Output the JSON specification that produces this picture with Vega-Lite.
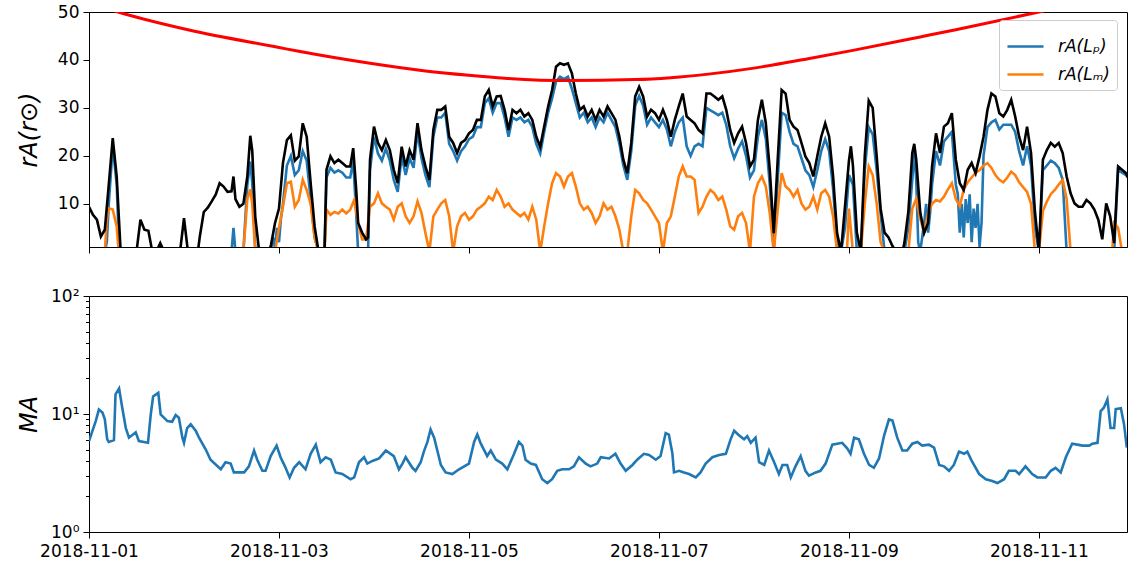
{
"$schema": "https://vega.github.io/schema/vega-lite/v6.json",
"padding": {"left": 16, "top": 2, "right": 0, "bottom": 0},
"config": {
 "font": "DejaVu Sans",
 "view": {"stroke": "black", "strokeWidth": 1},
 "axis": {"domainColor": "black", "tickColor": "black", "labelColor": "black", "titleColor": "black", "grid": false, "labelFont": "DejaVu Sans", "labelFontSize": 17, "tickSize": 6, "domainWidth": 1, "tickWidth": 1, "titleFont": "DejaVu Sans", "titleFontWeight": "normal"}
},
"datasets": {
"tot": [
{"t":"2018-11-01T00:00","v":9.4},{"t":"2018-11-01T01:00","v":7.7},{"t":"2018-11-01T02:00","v":6.7},{"t":"2018-11-01T03:00","v":3.2},{"t":"2018-11-01T04:00","v":4.6},{"t":"2018-11-01T05:00","v":14},{"t":"2018-11-01T06:00","v":23.7},{"t":"2018-11-01T07:00","v":15.7},{"t":"2018-11-01T08:00","v":0},{"t":"2018-11-01T12:00","v":0},{"t":"2018-11-01T13:00","v":6.7},{"t":"2018-11-01T14:00","v":4.6},{"t":"2018-11-01T15:00","v":4.4},{"t":"2018-11-01T16:00","v":0},{"t":"2018-11-01T17:00","v":0},{"t":"2018-11-01T18:00","v":1.8},{"t":"2018-11-01T19:00","v":0},{"t":"2018-11-01T23:00","v":0},
{"t":"2018-11-02T00:00","v":7},{"t":"2018-11-02T01:00","v":0},{"t":"2018-11-02T03:30","v":0},{"t":"2018-11-02T04:00","v":3.2},{"t":"2018-11-02T05:00","v":8.3},{"t":"2018-11-02T06:00","v":9.2},{"t":"2018-11-02T07:00","v":10.5},{"t":"2018-11-02T08:00","v":11.9},{"t":"2018-11-02T09:00","v":14.3},{"t":"2018-11-02T10:00","v":13.6},{"t":"2018-11-02T11:00","v":12.5},{"t":"2018-11-02T12:00","v":12.6},{"t":"2018-11-02T12:30","v":15.7},{"t":"2018-11-02T13:00","v":11},{"t":"2018-11-02T14:00","v":9.4},{"t":"2018-11-02T15:00","v":10},{"t":"2018-11-02T16:00","v":15.7},{"t":"2018-11-02T16:45","v":24.2},{"t":"2018-11-02T17:15","v":21},{"t":"2018-11-02T18:00","v":7.4},{"t":"2018-11-02T19:00","v":0},{"t":"2018-11-02T21:30","v":0},{"t":"2018-11-02T22:00","v":1.5},{"t":"2018-11-02T23:00","v":6},
{"t":"2018-11-03T00:00","v":9},{"t":"2018-11-03T01:00","v":18.5},{"t":"2018-11-03T02:00","v":23.3},{"t":"2018-11-03T03:00","v":24.3},{"t":"2018-11-03T04:00","v":19},{"t":"2018-11-03T05:00","v":19.9},{"t":"2018-11-03T06:00","v":26.8},{"t":"2018-11-03T07:00","v":24},{"t":"2018-11-03T08:00","v":14.3},{"t":"2018-11-03T09:00","v":5.3},{"t":"2018-11-03T10:00","v":0},{"t":"2018-11-03T11:30","v":0},{"t":"2018-11-03T12:00","v":17.1},{"t":"2018-11-03T13:00","v":19.9},{"t":"2018-11-03T14:00","v":18.5},{"t":"2018-11-03T15:00","v":19.2},{"t":"2018-11-03T16:00","v":18.5},{"t":"2018-11-03T17:00","v":17.8},{"t":"2018-11-03T18:00","v":17.8},{"t":"2018-11-03T18:45","v":21.6},{"t":"2018-11-03T19:30","v":13},{"t":"2018-11-03T20:00","v":6},{"t":"2018-11-03T21:00","v":4},{"t":"2018-11-03T22:00","v":2.6},{"t":"2018-11-03T22:30","v":3},{"t":"2018-11-03T23:00","v":19.2},
{"t":"2018-11-04T00:00","v":26.1},{"t":"2018-11-04T01:00","v":22.7},{"t":"2018-11-04T02:00","v":21.2},{"t":"2018-11-04T03:00","v":23.3},{"t":"2018-11-04T04:00","v":21.2},{"t":"2018-11-04T05:00","v":17.1},{"t":"2018-11-04T06:00","v":14.3},{"t":"2018-11-04T07:00","v":21.9},{"t":"2018-11-04T08:00","v":17.8},{"t":"2018-11-04T09:00","v":21.2},{"t":"2018-11-04T10:00","v":19.2},{"t":"2018-11-04T11:00","v":26.8},{"t":"2018-11-04T12:00","v":21.2},{"t":"2018-11-04T13:00","v":17.8},{"t":"2018-11-04T14:00","v":15},{"t":"2018-11-04T15:00","v":25.4},{"t":"2018-11-04T16:00","v":29.6},{"t":"2018-11-04T17:00","v":29.6},{"t":"2018-11-04T18:00","v":30.3},{"t":"2018-11-04T19:00","v":24},{"t":"2018-11-04T20:00","v":22.7},{"t":"2018-11-04T21:00","v":20.6},{"t":"2018-11-04T22:00","v":22.7},{"t":"2018-11-04T23:00","v":23.3},
{"t":"2018-11-05T00:00","v":24.7},{"t":"2018-11-05T01:00","v":25.4},{"t":"2018-11-05T02:00","v":27.5},{"t":"2018-11-05T03:00","v":27.5},{"t":"2018-11-05T04:00","v":32.4},{"t":"2018-11-05T05:00","v":33.75},{"t":"2018-11-05T06:00","v":30.3},{"t":"2018-11-05T07:00","v":32.4},{"t":"2018-11-05T08:00","v":32.5},{"t":"2018-11-05T09:00","v":29.6},{"t":"2018-11-05T10:00","v":25.4},{"t":"2018-11-05T11:00","v":29.6},{"t":"2018-11-05T12:00","v":28.9},{"t":"2018-11-05T13:00","v":29.6},{"t":"2018-11-05T14:00","v":28.2},{"t":"2018-11-05T15:00","v":28.9},{"t":"2018-11-05T16:00","v":27.5},{"t":"2018-11-05T17:00","v":24},{"t":"2018-11-05T18:00","v":21.9},{"t":"2018-11-05T19:00","v":26.1},{"t":"2018-11-05T20:00","v":30.3},{"t":"2018-11-05T21:00","v":33.75},{"t":"2018-11-05T22:00","v":38.6},{"t":"2018-11-05T23:00","v":39.3},
{"t":"2018-11-06T00:00","v":39},{"t":"2018-11-06T01:00","v":39.3},{"t":"2018-11-06T02:00","v":37.2},{"t":"2018-11-06T03:00","v":33},{"t":"2018-11-06T04:00","v":29.6},{"t":"2018-11-06T05:00","v":30.3},{"t":"2018-11-06T06:00","v":28.2},{"t":"2018-11-06T07:00","v":29.6},{"t":"2018-11-06T08:00","v":27.5},{"t":"2018-11-06T09:00","v":29.6},{"t":"2018-11-06T10:00","v":28.2},{"t":"2018-11-06T11:00","v":30.3},{"t":"2018-11-06T12:00","v":28.9},{"t":"2018-11-06T13:00","v":27.5},{"t":"2018-11-06T14:00","v":24},{"t":"2018-11-06T15:00","v":19.2},{"t":"2018-11-06T16:00","v":16.4},{"t":"2018-11-06T17:00","v":22.7},{"t":"2018-11-06T18:00","v":32.4},{"t":"2018-11-06T19:00","v":34.4},{"t":"2018-11-06T20:00","v":32.4},{"t":"2018-11-06T21:00","v":28.2},{"t":"2018-11-06T22:00","v":29.6},{"t":"2018-11-06T23:00","v":28.9},
{"t":"2018-11-07T00:00","v":27.5},{"t":"2018-11-07T01:00","v":29.6},{"t":"2018-11-07T02:00","v":27.5},{"t":"2018-11-07T03:00","v":24},{"t":"2018-11-07T04:00","v":27.5},{"t":"2018-11-07T05:00","v":30.3},{"t":"2018-11-07T06:00","v":33},{"t":"2018-11-07T07:00","v":28.2},{"t":"2018-11-07T08:00","v":27.5},{"t":"2018-11-07T09:00","v":26.8},{"t":"2018-11-07T10:00","v":25.4},{"t":"2018-11-07T11:00","v":24.7},{"t":"2018-11-07T12:00","v":33},{"t":"2018-11-07T13:00","v":33},{"t":"2018-11-07T14:00","v":32.4},{"t":"2018-11-07T15:00","v":31.7},{"t":"2018-11-07T16:00","v":32.4},{"t":"2018-11-07T17:00","v":29.6},{"t":"2018-11-07T18:00","v":25.4},{"t":"2018-11-07T19:00","v":22.7},{"t":"2018-11-07T20:00","v":24.7},{"t":"2018-11-07T21:00","v":26.1},{"t":"2018-11-07T22:00","v":22.7},{"t":"2018-11-07T23:00","v":17.8},
{"t":"2018-11-08T00:00","v":19.2},{"t":"2018-11-08T01:00","v":27.5},{"t":"2018-11-08T02:00","v":31.7},{"t":"2018-11-08T03:00","v":26.8},{"t":"2018-11-08T04:00","v":17.1},{"t":"2018-11-08T05:00","v":3.9},{"t":"2018-11-08T06:00","v":19.2},{"t":"2018-11-08T07:00","v":33.75},{"t":"2018-11-08T08:00","v":33},{"t":"2018-11-08T09:00","v":27.5},{"t":"2018-11-08T10:00","v":26.1},{"t":"2018-11-08T11:00","v":25.4},{"t":"2018-11-08T12:00","v":22.7},{"t":"2018-11-08T13:00","v":19.9},{"t":"2018-11-08T14:00","v":18.5},{"t":"2018-11-08T15:00","v":15.7},{"t":"2018-11-08T16:00","v":19.9},{"t":"2018-11-08T17:00","v":24},{"t":"2018-11-08T18:00","v":26.8},{"t":"2018-11-08T19:00","v":24},{"t":"2018-11-08T20:00","v":15.7},{"t":"2018-11-08T21:00","v":3.9},{"t":"2018-11-08T22:00","v":0},{"t":"2018-11-08T23:00","v":9.4},
{"t":"2018-11-09T00:00","v":19},{"t":"2018-11-09T00:30","v":22},{"t":"2018-11-09T01:00","v":18},{"t":"2018-11-09T02:00","v":4},{"t":"2018-11-09T03:00","v":0},{"t":"2018-11-09T04:00","v":20},{"t":"2018-11-09T05:00","v":31.5},{"t":"2018-11-09T06:00","v":30},{"t":"2018-11-09T07:00","v":20},{"t":"2018-11-09T08:00","v":9},{"t":"2018-11-09T09:00","v":4},{"t":"2018-11-09T10:00","v":3},{"t":"2018-11-09T11:00","v":1.2},{"t":"2018-11-09T12:00","v":0},{"t":"2018-11-09T13:30","v":0},{"t":"2018-11-09T14:00","v":1.8},{"t":"2018-11-09T15:00","v":8.3},{"t":"2018-11-09T16:00","v":20.6},{"t":"2018-11-09T16:30","v":22.5},{"t":"2018-11-09T17:00","v":19.2},{"t":"2018-11-09T18:00","v":8.3},{"t":"2018-11-09T19:00","v":3.9},{"t":"2018-11-09T20:00","v":6},{"t":"2018-11-09T21:00","v":17.8},{"t":"2018-11-09T22:00","v":24.7},{"t":"2018-11-09T23:00","v":20.6},
{"t":"2018-11-10T00:00","v":26.1},{"t":"2018-11-10T01:00","v":26.8},{"t":"2018-11-10T02:00","v":28.9},{"t":"2018-11-10T03:00","v":19.2},{"t":"2018-11-10T04:00","v":14.3},{"t":"2018-11-10T05:00","v":12.9},{"t":"2018-11-10T06:00","v":17.1},{"t":"2018-11-10T07:00","v":18.5},{"t":"2018-11-10T08:00","v":16.4},{"t":"2018-11-10T09:00","v":19.9},{"t":"2018-11-10T10:00","v":24},{"t":"2018-11-10T11:00","v":29.6},{"t":"2018-11-10T12:00","v":33},{"t":"2018-11-10T13:00","v":32.4},{"t":"2018-11-10T14:00","v":28.9},{"t":"2018-11-10T15:00","v":28.2},{"t":"2018-11-10T16:00","v":29.6},{"t":"2018-11-10T17:00","v":31.7},{"t":"2018-11-10T18:00","v":28.2},{"t":"2018-11-10T19:00","v":24},{"t":"2018-11-10T20:00","v":21.2},{"t":"2018-11-10T21:00","v":26.1},{"t":"2018-11-10T22:00","v":20.6},{"t":"2018-11-10T23:00","v":8.3},
{"t":"2018-11-11T00:00","v":0},{"t":"2018-11-11T01:00","v":19.2},{"t":"2018-11-11T02:00","v":21.2},{"t":"2018-11-11T03:00","v":22.7},{"t":"2018-11-11T04:00","v":21.9},{"t":"2018-11-11T05:00","v":22.7},{"t":"2018-11-11T06:00","v":20.6},{"t":"2018-11-11T07:00","v":15.7},{"t":"2018-11-11T08:00","v":12.2},{"t":"2018-11-11T09:00","v":10.1},{"t":"2018-11-11T10:00","v":9.4},{"t":"2018-11-11T11:00","v":9.4},{"t":"2018-11-11T12:00","v":10.8},{"t":"2018-11-11T13:00","v":10.1},{"t":"2018-11-11T14:00","v":8.8},{"t":"2018-11-11T15:00","v":6.7},{"t":"2018-11-11T16:00","v":2.6},{"t":"2018-11-11T17:00","v":10.1},{"t":"2018-11-11T18:00","v":7.4},{"t":"2018-11-11T19:00","v":1.8},{"t":"2018-11-11T20:00","v":17.8},{"t":"2018-11-11T21:00","v":17.1},{"t":"2018-11-11T22:00","v":16.4},{"t":"2018-11-11T22:30","v":15.5}
],
"lp": [
{"t":"2018-11-01T04:00","v":0},{"t":"2018-11-01T04:30","v":2},{"t":"2018-11-01T05:00","v":10},{"t":"2018-11-01T06:00","v":22},{"t":"2018-11-01T07:00","v":14},{"t":"2018-11-01T07:30","v":3},{"t":"2018-11-01T08:00","v":0},
{"t":"2018-11-02T12:00","v":0},{"t":"2018-11-02T12:30","v":5},{"t":"2018-11-02T13:00","v":0},{"t":"2018-11-02T15:00","v":0},{"t":"2018-11-02T16:00","v":14},{"t":"2018-11-02T16:45","v":18.8},{"t":"2018-11-02T17:15","v":14.3},{"t":"2018-11-02T18:00","v":1},{"t":"2018-11-02T19:00","v":0},{"t":"2018-11-02T22:00","v":0},{"t":"2018-11-02T22:30","v":3},{"t":"2018-11-02T23:00","v":1},{"t":"2018-11-02T23:30","v":5},
{"t":"2018-11-03T00:00","v":2},{"t":"2018-11-03T00:30","v":7},{"t":"2018-11-03T01:00","v":10},{"t":"2018-11-03T02:00","v":18},{"t":"2018-11-03T03:00","v":20},{"t":"2018-11-03T04:00","v":16},{"t":"2018-11-03T05:00","v":17},{"t":"2018-11-03T06:00","v":21},{"t":"2018-11-03T07:00","v":19},{"t":"2018-11-03T08:00","v":11},{"t":"2018-11-03T09:00","v":3},{"t":"2018-11-03T10:00","v":0},{"t":"2018-11-03T11:30","v":0},{"t":"2018-11-03T12:00","v":15.5},{"t":"2018-11-03T13:00","v":17.5},{"t":"2018-11-03T14:00","v":16.5},{"t":"2018-11-03T15:00","v":17},{"t":"2018-11-03T16:00","v":16.5},{"t":"2018-11-03T17:00","v":15.5},{"t":"2018-11-03T18:00","v":15.5},{"t":"2018-11-03T18:45","v":19},{"t":"2018-11-03T19:30","v":8},{"t":"2018-11-03T20:00","v":0},{"t":"2018-11-03T22:30","v":0},{"t":"2018-11-03T23:00","v":17},
{"t":"2018-11-04T00:00","v":24},{"t":"2018-11-04T01:00","v":20.5},{"t":"2018-11-04T02:00","v":19},{"t":"2018-11-04T03:00","v":21.5},{"t":"2018-11-04T04:00","v":19},{"t":"2018-11-04T05:00","v":15},{"t":"2018-11-04T06:00","v":12.5},{"t":"2018-11-04T07:00","v":20},{"t":"2018-11-04T08:00","v":16},{"t":"2018-11-04T09:00","v":19.5},{"t":"2018-11-04T10:00","v":17.5},{"t":"2018-11-04T11:00","v":25},{"t":"2018-11-04T12:00","v":19.5},{"t":"2018-11-04T13:00","v":16},{"t":"2018-11-04T14:00","v":13.5},{"t":"2018-11-04T15:00","v":24},{"t":"2018-11-04T16:00","v":28},{"t":"2018-11-04T17:00","v":28},{"t":"2018-11-04T18:00","v":29},{"t":"2018-11-04T19:00","v":22.5},{"t":"2018-11-04T20:00","v":21},{"t":"2018-11-04T21:00","v":19},{"t":"2018-11-04T22:00","v":21},{"t":"2018-11-04T23:00","v":22},
{"t":"2018-11-05T00:00","v":23.5},{"t":"2018-11-05T01:00","v":24},{"t":"2018-11-05T02:00","v":26},{"t":"2018-11-05T03:00","v":26},{"t":"2018-11-05T04:00","v":31},{"t":"2018-11-05T05:00","v":32},{"t":"2018-11-05T06:00","v":29},{"t":"2018-11-05T07:00","v":31},{"t":"2018-11-05T08:00","v":31},{"t":"2018-11-05T09:00","v":28},{"t":"2018-11-05T10:00","v":24},{"t":"2018-11-05T11:00","v":28},{"t":"2018-11-05T12:00","v":27.5},{"t":"2018-11-05T13:00","v":28},{"t":"2018-11-05T14:00","v":27},{"t":"2018-11-05T15:00","v":27.5},{"t":"2018-11-05T16:00","v":26},{"t":"2018-11-05T17:00","v":22.5},{"t":"2018-11-05T18:00","v":20.5},{"t":"2018-11-05T19:00","v":25},{"t":"2018-11-05T20:00","v":29},{"t":"2018-11-05T21:00","v":32},{"t":"2018-11-05T22:00","v":35.5},{"t":"2018-11-05T23:00","v":36.5},
{"t":"2018-11-06T00:00","v":36},{"t":"2018-11-06T01:00","v":36.5},{"t":"2018-11-06T02:00","v":34},{"t":"2018-11-06T03:00","v":31},{"t":"2018-11-06T04:00","v":28},{"t":"2018-11-06T05:00","v":29},{"t":"2018-11-06T06:00","v":27},{"t":"2018-11-06T07:00","v":28},{"t":"2018-11-06T08:00","v":26},{"t":"2018-11-06T09:00","v":28},{"t":"2018-11-06T10:00","v":27},{"t":"2018-11-06T11:00","v":29},{"t":"2018-11-06T12:00","v":27.5},{"t":"2018-11-06T13:00","v":26},{"t":"2018-11-06T14:00","v":22.5},{"t":"2018-11-06T15:00","v":18},{"t":"2018-11-06T16:00","v":15},{"t":"2018-11-06T17:00","v":21},{"t":"2018-11-06T18:00","v":30.5},{"t":"2018-11-06T19:00","v":32.5},{"t":"2018-11-06T20:00","v":30.5},{"t":"2018-11-06T21:00","v":26.5},{"t":"2018-11-06T22:00","v":28},{"t":"2018-11-06T23:00","v":27},
{"t":"2018-11-07T00:00","v":26},{"t":"2018-11-07T01:00","v":27.5},{"t":"2018-11-07T02:00","v":25.5},{"t":"2018-11-07T03:00","v":22},{"t":"2018-11-07T04:00","v":25},{"t":"2018-11-07T05:00","v":27},{"t":"2018-11-07T06:00","v":28},{"t":"2018-11-07T07:00","v":22},{"t":"2018-11-07T08:00","v":20},{"t":"2018-11-07T09:00","v":22},{"t":"2018-11-07T10:00","v":22.5},{"t":"2018-11-07T11:00","v":22},{"t":"2018-11-07T12:00","v":30},{"t":"2018-11-07T13:00","v":29.5},{"t":"2018-11-07T14:00","v":29},{"t":"2018-11-07T15:00","v":28.5},{"t":"2018-11-07T16:00","v":29},{"t":"2018-11-07T17:00","v":26.5},{"t":"2018-11-07T18:00","v":22},{"t":"2018-11-07T19:00","v":19.5},{"t":"2018-11-07T20:00","v":21.5},{"t":"2018-11-07T21:00","v":23},{"t":"2018-11-07T22:00","v":20},{"t":"2018-11-07T23:00","v":15.5},
{"t":"2018-11-08T00:00","v":17},{"t":"2018-11-08T01:00","v":24},{"t":"2018-11-08T02:00","v":27.5},{"t":"2018-11-08T03:00","v":23.5},{"t":"2018-11-08T04:00","v":14},{"t":"2018-11-08T05:00","v":0},{"t":"2018-11-08T06:00","v":15},{"t":"2018-11-08T07:00","v":29},{"t":"2018-11-08T08:00","v":28.5},{"t":"2018-11-08T09:00","v":25},{"t":"2018-11-08T10:00","v":22.5},{"t":"2018-11-08T11:00","v":22},{"t":"2018-11-08T12:00","v":19.5},{"t":"2018-11-08T13:00","v":17},{"t":"2018-11-08T14:00","v":16},{"t":"2018-11-08T15:00","v":13.5},{"t":"2018-11-08T16:00","v":17},{"t":"2018-11-08T17:00","v":21},{"t":"2018-11-08T18:00","v":23.5},{"t":"2018-11-08T19:00","v":21},{"t":"2018-11-08T20:00","v":13},{"t":"2018-11-08T21:00","v":2},{"t":"2018-11-08T22:00","v":0},{"t":"2018-11-08T23:00","v":5},
{"t":"2018-11-09T00:00","v":16},{"t":"2018-11-09T01:00","v":14},{"t":"2018-11-09T02:00","v":0},{"t":"2018-11-09T03:00","v":0},{"t":"2018-11-09T04:00","v":17},{"t":"2018-11-09T05:00","v":26},{"t":"2018-11-09T06:00","v":24.5},{"t":"2018-11-09T07:00","v":17},{"t":"2018-11-09T08:00","v":8},{"t":"2018-11-09T09:00","v":0},{"t":"2018-11-09T14:00","v":0},{"t":"2018-11-09T15:00","v":5},{"t":"2018-11-09T16:00","v":15},{"t":"2018-11-09T16:30","v":21},{"t":"2018-11-09T17:00","v":15},{"t":"2018-11-09T17:30","v":2},{"t":"2018-11-09T18:00","v":0},{"t":"2018-11-09T19:00","v":6},{"t":"2018-11-09T19:30","v":10},{"t":"2018-11-09T20:00","v":4},{"t":"2018-11-09T20:30","v":8},{"t":"2018-11-09T21:00","v":14},{"t":"2018-11-09T22:00","v":21},{"t":"2018-11-09T23:00","v":18},
{"t":"2018-11-10T00:00","v":23},{"t":"2018-11-10T01:00","v":24},{"t":"2018-11-10T02:00","v":25},{"t":"2018-11-10T03:00","v":14},{"t":"2018-11-10T03:30","v":12},{"t":"2018-11-10T04:00","v":4},{"t":"2018-11-10T04:30","v":10},{"t":"2018-11-10T05:00","v":3},{"t":"2018-11-10T05:30","v":11},{"t":"2018-11-10T06:00","v":6},{"t":"2018-11-10T06:30","v":12},{"t":"2018-11-10T07:00","v":2},{"t":"2018-11-10T07:30","v":9},{"t":"2018-11-10T08:00","v":5},{"t":"2018-11-10T08:30","v":10},{"t":"2018-11-10T09:00","v":1},{"t":"2018-11-10T09:30","v":6},{"t":"2018-11-10T10:00","v":20},{"t":"2018-11-10T11:00","v":26},{"t":"2018-11-10T12:00","v":27},{"t":"2018-11-10T13:00","v":27.5},{"t":"2018-11-10T14:00","v":25.5},{"t":"2018-11-10T15:00","v":26.5},{"t":"2018-11-10T16:00","v":26.5},{"t":"2018-11-10T17:00","v":26.5},{"t":"2018-11-10T18:00","v":25},{"t":"2018-11-10T19:00","v":21},{"t":"2018-11-10T20:00","v":18},{"t":"2018-11-10T21:00","v":22},{"t":"2018-11-10T22:00","v":18},{"t":"2018-11-10T23:00","v":5},
{"t":"2018-11-11T00:00","v":0},{"t":"2018-11-11T01:00","v":17},{"t":"2018-11-11T02:00","v":18},{"t":"2018-11-11T03:00","v":19},{"t":"2018-11-11T04:00","v":18.5},{"t":"2018-11-11T05:00","v":17.5},{"t":"2018-11-11T06:00","v":15},{"t":"2018-11-11T07:00","v":0},{"t":"2018-11-11T19:00","v":0},{"t":"2018-11-11T20:00","v":17},{"t":"2018-11-11T21:00","v":16.5},{"t":"2018-11-11T22:00","v":16},{"t":"2018-11-11T22:30","v":15.5}
],
"lm": [
{"t":"2018-11-01T04:00","v":0},{"t":"2018-11-01T04:30","v":6.7},{"t":"2018-11-01T05:00","v":9.1},{"t":"2018-11-01T06:00","v":8.8},{"t":"2018-11-01T07:00","v":5.3},{"t":"2018-11-01T07:30","v":0},
{"t":"2018-11-02T15:00","v":0},{"t":"2018-11-02T16:00","v":11},{"t":"2018-11-02T16:45","v":13},{"t":"2018-11-02T17:15","v":10},{"t":"2018-11-02T18:00","v":0},{"t":"2018-11-02T23:00","v":0},
{"t":"2018-11-03T00:00","v":5},{"t":"2018-11-03T01:00","v":9.4},{"t":"2018-11-03T02:00","v":14.3},{"t":"2018-11-03T03:00","v":14.6},{"t":"2018-11-03T04:00","v":9.4},{"t":"2018-11-03T05:00","v":10.8},{"t":"2018-11-03T06:00","v":15},{"t":"2018-11-03T07:00","v":12.9},{"t":"2018-11-03T08:00","v":10},{"t":"2018-11-03T09:00","v":3},{"t":"2018-11-03T10:00","v":0},{"t":"2018-11-03T11:30","v":0},{"t":"2018-11-03T12:00","v":8.8},{"t":"2018-11-03T13:00","v":7.7},{"t":"2018-11-03T14:00","v":8.3},{"t":"2018-11-03T15:00","v":8},{"t":"2018-11-03T16:00","v":8.8},{"t":"2018-11-03T17:00","v":8},{"t":"2018-11-03T18:00","v":8.8},{"t":"2018-11-03T19:00","v":10.8},{"t":"2018-11-03T20:00","v":6},{"t":"2018-11-03T21:00","v":2.6},{"t":"2018-11-03T22:00","v":2.6},{"t":"2018-11-03T23:00","v":9.4},
{"t":"2018-11-04T00:00","v":10.1},{"t":"2018-11-04T01:00","v":12.2},{"t":"2018-11-04T02:00","v":10.1},{"t":"2018-11-04T03:00","v":9.4},{"t":"2018-11-04T04:00","v":8.8},{"t":"2018-11-04T05:00","v":6.7},{"t":"2018-11-04T06:00","v":9.4},{"t":"2018-11-04T07:00","v":10.1},{"t":"2018-11-04T08:00","v":7.4},{"t":"2018-11-04T09:00","v":6},{"t":"2018-11-04T10:00","v":7.4},{"t":"2018-11-04T11:00","v":10.5},{"t":"2018-11-04T12:00","v":8.1},{"t":"2018-11-04T13:00","v":3.9},{"t":"2018-11-04T14:00","v":0},{"t":"2018-11-04T15:00","v":7.4},{"t":"2018-11-04T16:00","v":8.8},{"t":"2018-11-04T17:00","v":10.1},{"t":"2018-11-04T18:00","v":10.8},{"t":"2018-11-04T19:00","v":7.4},{"t":"2018-11-04T20:00","v":0},{"t":"2018-11-04T21:00","v":5.3},{"t":"2018-11-04T22:00","v":7.4},{"t":"2018-11-04T23:00","v":8.1},
{"t":"2018-11-05T00:00","v":6.7},{"t":"2018-11-05T01:00","v":7.4},{"t":"2018-11-05T02:00","v":8.8},{"t":"2018-11-05T03:00","v":9.4},{"t":"2018-11-05T04:00","v":10.1},{"t":"2018-11-05T05:00","v":11.5},{"t":"2018-11-05T06:00","v":10.8},{"t":"2018-11-05T07:00","v":12.9},{"t":"2018-11-05T08:00","v":11.5},{"t":"2018-11-05T09:00","v":9.4},{"t":"2018-11-05T10:00","v":10.1},{"t":"2018-11-05T11:00","v":8.8},{"t":"2018-11-05T12:00","v":8.1},{"t":"2018-11-05T13:00","v":7.4},{"t":"2018-11-05T14:00","v":8.1},{"t":"2018-11-05T15:00","v":6.7},{"t":"2018-11-05T16:00","v":9.4},{"t":"2018-11-05T17:00","v":6.7},{"t":"2018-11-05T18:00","v":0},{"t":"2018-11-05T19:00","v":5.3},{"t":"2018-11-05T20:00","v":10.1},{"t":"2018-11-05T21:00","v":14.3},{"t":"2018-11-05T22:00","v":16.4},{"t":"2018-11-05T23:00","v":15.7},
{"t":"2018-11-06T00:00","v":13.6},{"t":"2018-11-06T01:00","v":15.7},{"t":"2018-11-06T02:00","v":16.4},{"t":"2018-11-06T03:00","v":13.6},{"t":"2018-11-06T04:00","v":10.1},{"t":"2018-11-06T05:00","v":8.8},{"t":"2018-11-06T06:00","v":9.4},{"t":"2018-11-06T07:00","v":8.1},{"t":"2018-11-06T08:00","v":6},{"t":"2018-11-06T09:00","v":7.4},{"t":"2018-11-06T10:00","v":10.1},{"t":"2018-11-06T11:00","v":8.8},{"t":"2018-11-06T12:00","v":9.4},{"t":"2018-11-06T13:00","v":7.4},{"t":"2018-11-06T14:00","v":4.6},{"t":"2018-11-06T15:00","v":0},{"t":"2018-11-06T16:00","v":0},{"t":"2018-11-06T17:00","v":7.4},{"t":"2018-11-06T18:00","v":12.9},{"t":"2018-11-06T19:00","v":12.2},{"t":"2018-11-06T20:00","v":10.8},{"t":"2018-11-06T21:00","v":10.1},{"t":"2018-11-06T22:00","v":8.8},{"t":"2018-11-06T23:00","v":7.4},
{"t":"2018-11-07T00:00","v":6},{"t":"2018-11-07T01:00","v":0},{"t":"2018-11-07T02:00","v":6},{"t":"2018-11-07T03:00","v":7.4},{"t":"2018-11-07T04:00","v":11.5},{"t":"2018-11-07T05:00","v":15.7},{"t":"2018-11-07T06:00","v":17.8},{"t":"2018-11-07T07:00","v":15.7},{"t":"2018-11-07T08:00","v":15.7},{"t":"2018-11-07T09:00","v":15},{"t":"2018-11-07T10:00","v":8.1},{"t":"2018-11-07T11:00","v":9.4},{"t":"2018-11-07T12:00","v":11.5},{"t":"2018-11-07T13:00","v":12.9},{"t":"2018-11-07T14:00","v":12.2},{"t":"2018-11-07T15:00","v":10.8},{"t":"2018-11-07T16:00","v":11.5},{"t":"2018-11-07T17:00","v":8.8},{"t":"2018-11-07T18:00","v":5.3},{"t":"2018-11-07T19:00","v":4.6},{"t":"2018-11-07T20:00","v":7.4},{"t":"2018-11-07T21:00","v":8.1},{"t":"2018-11-07T22:00","v":6},{"t":"2018-11-07T23:00","v":0},
{"t":"2018-11-08T00:00","v":11.5},{"t":"2018-11-08T01:00","v":14.3},{"t":"2018-11-08T02:00","v":15.7},{"t":"2018-11-08T03:00","v":13.6},{"t":"2018-11-08T04:00","v":8},{"t":"2018-11-08T05:00","v":0},{"t":"2018-11-08T06:00","v":8.8},{"t":"2018-11-08T07:00","v":16.4},{"t":"2018-11-08T08:00","v":13.6},{"t":"2018-11-08T09:00","v":12.9},{"t":"2018-11-08T10:00","v":11.5},{"t":"2018-11-08T11:00","v":12.9},{"t":"2018-11-08T12:00","v":10.1},{"t":"2018-11-08T13:00","v":8.8},{"t":"2018-11-08T14:00","v":9.4},{"t":"2018-11-08T15:00","v":11.5},{"t":"2018-11-08T16:00","v":8.8},{"t":"2018-11-08T17:00","v":12.2},{"t":"2018-11-08T18:00","v":12.9},{"t":"2018-11-08T19:00","v":11.5},{"t":"2018-11-08T20:00","v":7.4},{"t":"2018-11-08T21:00","v":0},{"t":"2018-11-08T23:30","v":0},
{"t":"2018-11-09T00:00","v":9},{"t":"2018-11-09T01:00","v":0},{"t":"2018-11-09T03:00","v":0},{"t":"2018-11-09T04:00","v":10},{"t":"2018-11-09T05:00","v":17.8},{"t":"2018-11-09T06:00","v":16},{"t":"2018-11-09T07:00","v":10.1},{"t":"2018-11-09T08:00","v":2},{"t":"2018-11-09T09:00","v":0},{"t":"2018-11-09T15:00","v":0},{"t":"2018-11-09T16:00","v":9},{"t":"2018-11-09T17:00","v":11},{"t":"2018-11-09T18:00","v":7},{"t":"2018-11-09T19:00","v":4},{"t":"2018-11-09T20:00","v":8},{"t":"2018-11-09T21:00","v":10},{"t":"2018-11-09T22:00","v":10.8},{"t":"2018-11-09T23:00","v":10.5},
{"t":"2018-11-10T00:00","v":11.5},{"t":"2018-11-10T01:00","v":13},{"t":"2018-11-10T02:00","v":14.3},{"t":"2018-11-10T03:00","v":11},{"t":"2018-11-10T04:00","v":9.5},{"t":"2018-11-10T05:00","v":13},{"t":"2018-11-10T06:00","v":14.5},{"t":"2018-11-10T07:00","v":15.5},{"t":"2018-11-10T08:00","v":16.5},{"t":"2018-11-10T09:00","v":17},{"t":"2018-11-10T10:00","v":18},{"t":"2018-11-10T11:00","v":18.5},{"t":"2018-11-10T12:00","v":17.5},{"t":"2018-11-10T13:00","v":16},{"t":"2018-11-10T14:00","v":15},{"t":"2018-11-10T15:00","v":14.5},{"t":"2018-11-10T16:00","v":15.5},{"t":"2018-11-10T17:00","v":16.7},{"t":"2018-11-10T18:00","v":16},{"t":"2018-11-10T19:00","v":14.5},{"t":"2018-11-10T20:00","v":13.5},{"t":"2018-11-10T21:00","v":12.5},{"t":"2018-11-10T22:00","v":10},{"t":"2018-11-10T23:00","v":0},
{"t":"2018-11-11T00:00","v":0},{"t":"2018-11-11T01:00","v":8.5},{"t":"2018-11-11T02:00","v":10.5},{"t":"2018-11-11T03:00","v":12},{"t":"2018-11-11T04:00","v":12.9},{"t":"2018-11-11T05:00","v":14},{"t":"2018-11-11T06:00","v":15},{"t":"2018-11-11T07:00","v":11},{"t":"2018-11-11T08:00","v":0},{"t":"2018-11-11T18:30","v":0},{"t":"2018-11-11T19:00","v":6},{"t":"2018-11-11T20:00","v":5},{"t":"2018-11-11T21:00","v":0}
],
"red": [
{"t":"2018-11-01T00:00","v":52},{"t":"2018-11-01T07:00","v":50.1},{"t":"2018-11-02T01:00","v":46.3},{"t":"2018-11-03T00:00","v":42.6},{"t":"2018-11-03T05:00","v":41.8},{"t":"2018-11-03T23:00","v":39.3},{"t":"2018-11-04T13:00","v":37.7},{"t":"2018-11-05T00:00","v":36.8},{"t":"2018-11-05T09:00","v":36.2},{"t":"2018-11-06T01:00","v":35.7},{"t":"2018-11-06T18:00","v":35.9},{"t":"2018-11-07T03:00","v":36.3},{"t":"2018-11-07T13:00","v":37.1},{"t":"2018-11-08T00:00","v":38.3},{"t":"2018-11-08T14:00","v":40.3},{"t":"2018-11-09T01:00","v":42.0},{"t":"2018-11-09T18:00","v":44.8},{"t":"2018-11-10T03:00","v":46.3},{"t":"2018-11-11T00:00","v":50.0},{"t":"2018-11-11T22:30","v":54.3}
],
"ma": [
{"t":"2018-11-01T00:00","v":5.9},{"t":"2018-11-01T01:42","v":8.7},{"t":"2018-11-01T02:30","v":10.9},{"t":"2018-11-01T03:24","v":10.3},{"t":"2018-11-01T04:00","v":9.0},{"t":"2018-11-01T04:36","v":6.1},{"t":"2018-11-01T05:00","v":5.8},{"t":"2018-11-01T06:18","v":6.0},{"t":"2018-11-01T06:42","v":14.7},{"t":"2018-11-01T07:36","v":16.5},{"t":"2018-11-01T08:24","v":11.3},{"t":"2018-11-01T09:18","v":7.6},{"t":"2018-11-01T10:06","v":6.3},{"t":"2018-11-01T11:48","v":7.0},{"t":"2018-11-01T12:36","v":5.9},{"t":"2018-11-01T14:54","v":5.7},{"t":"2018-11-01T15:36","v":9.9},{"t":"2018-11-01T16:12","v":14.1},{"t":"2018-11-01T17:30","v":15.1},{"t":"2018-11-01T18:06","v":9.9},{"t":"2018-11-01T19:48","v":8.7},{"t":"2018-11-01T21:00","v":8.6},{"t":"2018-11-01T21:54","v":9.8},{"t":"2018-11-01T22:42","v":9.3},{"t":"2018-11-01T23:36","v":6.3},
{"t":"2018-11-02T00:00","v":5.7},{"t":"2018-11-02T00:48","v":7.6},{"t":"2018-11-02T01:42","v":8.2},{"t":"2018-11-02T03:00","v":7.2},{"t":"2018-11-02T03:48","v":6.3},{"t":"2018-11-02T05:30","v":5.0},{"t":"2018-11-02T06:42","v":4.1},{"t":"2018-11-02T09:18","v":3.4},{"t":"2018-11-02T10:30","v":3.9},{"t":"2018-11-02T11:48","v":3.8},{"t":"2018-11-02T12:36","v":3.2},{"t":"2018-11-02T15:12","v":3.2},{"t":"2018-11-02T16:24","v":3.6},{"t":"2018-11-02T17:42","v":4.9},{"t":"2018-11-02T18:30","v":4.1},{"t":"2018-11-02T19:48","v":3.3},{"t":"2018-11-02T20:36","v":3.3},{"t":"2018-11-02T21:54","v":4.4},{"t":"2018-11-02T23:24","v":5.4},
{"t":"2018-11-03T00:24","v":4.3},{"t":"2018-11-03T01:30","v":3.6},{"t":"2018-11-03T02:42","v":2.9},{"t":"2018-11-03T03:48","v":3.5},{"t":"2018-11-03T05:06","v":3.9},{"t":"2018-11-03T06:42","v":3.4},{"t":"2018-11-03T08:00","v":4.6},{"t":"2018-11-03T09:18","v":5.5},{"t":"2018-11-03T10:30","v":3.9},{"t":"2018-11-03T11:48","v":4.3},{"t":"2018-11-03T13:06","v":4.1},{"t":"2018-11-03T14:18","v":3.2},{"t":"2018-11-03T16:00","v":3.1},{"t":"2018-11-03T18:06","v":2.8},{"t":"2018-11-03T19:00","v":2.9},{"t":"2018-11-03T20:12","v":3.9},{"t":"2018-11-03T21:30","v":4.3},{"t":"2018-11-03T22:18","v":3.8},{"t":"2018-11-03T23:36","v":4.0},
{"t":"2018-11-04T01:18","v":4.2},{"t":"2018-11-04T03:00","v":4.9},{"t":"2018-11-04T05:00","v":4.4},{"t":"2018-11-04T06:18","v":3.4},{"t":"2018-11-04T07:12","v":3.8},{"t":"2018-11-04T08:00","v":4.3},{"t":"2018-11-04T09:42","v":3.5},{"t":"2018-11-04T10:30","v":3.3},{"t":"2018-11-04T11:48","v":3.9},{"t":"2018-11-04T12:36","v":4.8},{"t":"2018-11-04T13:30","v":5.8},{"t":"2018-11-04T14:18","v":7.4},{"t":"2018-11-04T15:12","v":6.3},{"t":"2018-11-04T16:00","v":4.9},{"t":"2018-11-04T16:54","v":3.7},{"t":"2018-11-04T18:06","v":3.2},{"t":"2018-11-04T19:48","v":3.1},{"t":"2018-11-04T21:30","v":3.4},
{"t":"2018-11-05T00:00","v":3.8},{"t":"2018-11-05T01:18","v":5.8},{"t":"2018-11-05T02:06","v":6.7},{"t":"2018-11-05T03:00","v":5.6},{"t":"2018-11-05T04:36","v":4.4},{"t":"2018-11-05T05:30","v":4.9},{"t":"2018-11-05T06:48","v":4.1},{"t":"2018-11-05T08:24","v":3.8},{"t":"2018-11-05T09:42","v":3.4},{"t":"2018-11-05T11:24","v":4.6},{"t":"2018-11-05T12:36","v":5.8},{"t":"2018-11-05T13:30","v":5.4},{"t":"2018-11-05T14:18","v":4.1},{"t":"2018-11-05T15:36","v":3.8},{"t":"2018-11-05T16:54","v":3.7},{"t":"2018-11-05T18:30","v":2.8},{"t":"2018-11-05T19:48","v":2.6},{"t":"2018-11-05T21:00","v":2.8},{"t":"2018-11-05T22:18","v":3.3},{"t":"2018-11-05T23:36","v":3.4},
{"t":"2018-11-06T01:18","v":3.4},{"t":"2018-11-06T02:30","v":3.6},{"t":"2018-11-06T03:48","v":4.3},{"t":"2018-11-06T05:30","v":3.8},{"t":"2018-11-06T06:42","v":3.6},{"t":"2018-11-06T08:24","v":3.8},{"t":"2018-11-06T09:18","v":4.3},{"t":"2018-11-06T11:24","v":4.2},{"t":"2018-11-06T13:00","v":4.6},{"t":"2018-11-06T14:18","v":3.8},{"t":"2018-11-06T15:36","v":3.3},{"t":"2018-11-06T17:18","v":3.7},{"t":"2018-11-06T18:30","v":4.1},{"t":"2018-11-06T20:12","v":4.6},{"t":"2018-11-06T21:30","v":4.5},{"t":"2018-11-06T23:12","v":4.1},
{"t":"2018-11-07T00:24","v":4.4},{"t":"2018-11-07T01:42","v":6.9},{"t":"2018-11-07T02:30","v":6.7},{"t":"2018-11-07T03:24","v":4.6},{"t":"2018-11-07T03:48","v":3.2},{"t":"2018-11-07T05:06","v":3.3},{"t":"2018-11-07T06:18","v":3.2},{"t":"2018-11-07T07:36","v":3.1},{"t":"2018-11-07T09:18","v":2.9},{"t":"2018-11-07T10:30","v":3.2},{"t":"2018-11-07T11:48","v":3.8},{"t":"2018-11-07T13:30","v":4.3},{"t":"2018-11-07T15:12","v":4.5},{"t":"2018-11-07T16:54","v":4.6},{"t":"2018-11-07T18:06","v":6.1},{"t":"2018-11-07T19:00","v":7.2},{"t":"2018-11-07T20:12","v":6.6},{"t":"2018-11-07T21:30","v":6.1},{"t":"2018-11-07T22:18","v":6.5},{"t":"2018-11-07T23:12","v":5.7},
{"t":"2018-11-08T00:24","v":6.3},{"t":"2018-11-08T01:18","v":3.9},{"t":"2018-11-08T02:36","v":3.7},{"t":"2018-11-08T03:48","v":4.9},{"t":"2018-11-08T05:06","v":3.9},{"t":"2018-11-08T06:18","v":3.1},{"t":"2018-11-08T07:12","v":3.7},{"t":"2018-11-08T08:24","v":3.7},{"t":"2018-11-08T09:18","v":2.9},{"t":"2018-11-08T10:30","v":3.6},{"t":"2018-11-08T11:48","v":4.4},{"t":"2018-11-08T13:00","v":3.3},{"t":"2018-11-08T13:54","v":3.0},{"t":"2018-11-08T15:36","v":3.2},{"t":"2018-11-08T16:48","v":3.3},{"t":"2018-11-08T18:06","v":3.8},{"t":"2018-11-08T19:48","v":5.5},{"t":"2018-11-08T21:00","v":5.6},{"t":"2018-11-08T22:18","v":5.7},{"t":"2018-11-08T23:36","v":5.1},
{"t":"2018-11-09T00:24","v":4.6},{"t":"2018-11-09T01:18","v":6.3},{"t":"2018-11-09T02:30","v":6.1},{"t":"2018-11-09T03:48","v":4.6},{"t":"2018-11-09T05:06","v":3.7},{"t":"2018-11-09T06:18","v":3.5},{"t":"2018-11-09T07:36","v":4.2},{"t":"2018-11-09T08:54","v":6.6},{"t":"2018-11-09T10:06","v":9.0},{"t":"2018-11-09T11:00","v":8.8},{"t":"2018-11-09T12:12","v":6.3},{"t":"2018-11-09T13:30","v":4.9},{"t":"2018-11-09T14:42","v":4.9},{"t":"2018-11-09T16:00","v":5.6},{"t":"2018-11-09T17:18","v":5.8},{"t":"2018-11-09T18:30","v":5.4},{"t":"2018-11-09T20:12","v":5.5},{"t":"2018-11-09T21:30","v":5.2},{"t":"2018-11-09T22:48","v":3.7},
{"t":"2018-11-10T00:00","v":3.6},{"t":"2018-11-10T01:18","v":3.3},{"t":"2018-11-10T02:30","v":3.7},{"t":"2018-11-10T03:48","v":4.8},{"t":"2018-11-10T05:06","v":4.6},{"t":"2018-11-10T05:54","v":4.8},{"t":"2018-11-10T07:12","v":3.9},{"t":"2018-11-10T08:54","v":3.1},{"t":"2018-11-10T10:36","v":2.8},{"t":"2018-11-10T12:12","v":2.7},{"t":"2018-11-10T13:30","v":2.6},{"t":"2018-11-10T15:12","v":2.8},{"t":"2018-11-10T16:24","v":3.3},{"t":"2018-11-10T18:06","v":3.3},{"t":"2018-11-10T19:00","v":3.1},{"t":"2018-11-10T20:36","v":3.6},{"t":"2018-11-10T22:18","v":3.1},{"t":"2018-11-10T23:36","v":2.9},
{"t":"2018-11-11T01:42","v":2.9},{"t":"2018-11-11T03:00","v":3.3},{"t":"2018-11-11T04:12","v":3.5},{"t":"2018-11-11T05:30","v":3.2},{"t":"2018-11-11T06:48","v":4.3},{"t":"2018-11-11T08:24","v":5.6},{"t":"2018-11-11T09:42","v":5.5},{"t":"2018-11-11T11:00","v":5.4},{"t":"2018-11-11T12:42","v":5.4},{"t":"2018-11-11T13:30","v":5.6},{"t":"2018-11-11T14:48","v":5.7},{"t":"2018-11-11T15:36","v":10.6},{"t":"2018-11-11T16:24","v":11.3},{"t":"2018-11-11T17:18","v":13.3},{"t":"2018-11-11T18:06","v":7.6},{"t":"2018-11-11T19:00","v":7.6},{"t":"2018-11-11T19:24","v":11.0},{"t":"2018-11-11T20:42","v":11.2},{"t":"2018-11-11T21:30","v":8.2},{"t":"2018-11-11T22:12","v":5.2}
]
},
"spacing": 32,
"vconcat": [
{
 "width": 1038, "height": 235,
 "encoding": {
  "x": {"field": "t", "type": "temporal",
   "scale": {"domain": [{"year":2018,"month":11,"date":1,"hours":0},{"year":2018,"month":11,"date":11,"hours":22,"minutes":15}]},
   "axis": {"title": null, "labels": false, "values": [{"year":2018,"month":11,"date":1},{"year":2018,"month":11,"date":3},{"year":2018,"month":11,"date":5},{"year":2018,"month":11,"date":7},{"year":2018,"month":11,"date":9},{"year":2018,"month":11,"date":11}]}},
  "y": {"field": "v", "type": "quantitative", "scale": {"domain": [1, 50], "nice": false, "zero": false},
   "axis": {"values": [10,20,30,40,50], "title": "rA(r⊙)", "titleFontSize": 24, "titleFontStyle": "italic", "titlePadding": 8, "minExtent": 40, "maxExtent": 40, "labelPadding": 4}}
 },
 "layer": [
  {"data": {"name": "lp"}, "mark": {"type": "line", "strokeWidth": 2.6, "clip": true},
   "encoding": {"color": {"datum": "rA(Lₚ)", "scale": {"domain": ["rA(Lₚ)", "rA(Lₘ)"], "range": ["#1f77b4", "#ff7f0e"]},
     "legend": {"orient": "none", "legendX": 910, "legendY": 8, "title": null, "symbolType": "stroke", "symbolStrokeWidth": 2.6, "symbolSize": 1300, "labelFontSize": 17, "labelFontStyle": "italic", "labelFont": "DejaVu Sans", "labelColor": "black", "strokeColor": "#cccccc", "fillColor": "rgba(255,255,255,0.8)", "padding": 7, "cornerRadius": 3, "rowPadding": -6, "labelOffset": 13}}}},
  {"data": {"name": "lm"}, "mark": {"type": "line", "strokeWidth": 2.6, "clip": true},
   "encoding": {"color": {"datum": "rA(Lₘ)"}}},
  {"data": {"name": "tot"}, "mark": {"type": "line", "strokeWidth": 2.6, "color": "black", "clip": true}},
  {"data": {"name": "red"}, "mark": {"type": "line", "strokeWidth": 3, "color": "#ff0000", "interpolate": "monotone", "clip": true}}
 ]
},
{
 "width": 1038, "height": 236,
 "data": {"name": "ma"},
 "encoding": {
  "x": {"field": "t", "type": "temporal",
   "scale": {"domain": [{"year":2018,"month":11,"date":1,"hours":0},{"year":2018,"month":11,"date":11,"hours":22,"minutes":15}]},
   "axis": {"title": null, "format": "%Y-%m-%d", "labelPadding": 5, "labelFlush": false, "labelOverlap": false, "values": [{"year":2018,"month":11,"date":1},{"year":2018,"month":11,"date":3},{"year":2018,"month":11,"date":5},{"year":2018,"month":11,"date":7},{"year":2018,"month":11,"date":9},{"year":2018,"month":11,"date":11}]}}
 },
 "layer": [
  {"mark": {"type": "line", "strokeWidth": 2.6, "color": "#1f77b4", "clip": true},
   "encoding": {"y": {"field": "v", "type": "quantitative", "scale": {"type": "log", "domain": [1, 100], "nice": false},
    "axis": {"orient": "left", "values": [1, 10, 100], "labelExpr": "datum.value == 1 ? '10⁰' : datum.value == 10 ? '10¹' : '10²'", "title": "MA", "titleFontSize": 24, "titleFontStyle": "italic", "titlePadding": 8, "minExtent": 40, "maxExtent": 40, "labelPadding": 4}}}},
  {"mark": {"type": "line", "opacity": 0},
   "encoding": {"y": {"field": "v", "type": "quantitative",
    "axis": {"orient": "left", "values": [2,3,4,5,6,7,8,9,20,30,40,50,60,70,80,90], "labels": false, "tickSize": 3.5, "domain": false, "title": null, "minExtent": 0, "maxExtent": 0}}}}
 ],
 "resolve": {"axis": {"y": "independent"}}
}
]
}
